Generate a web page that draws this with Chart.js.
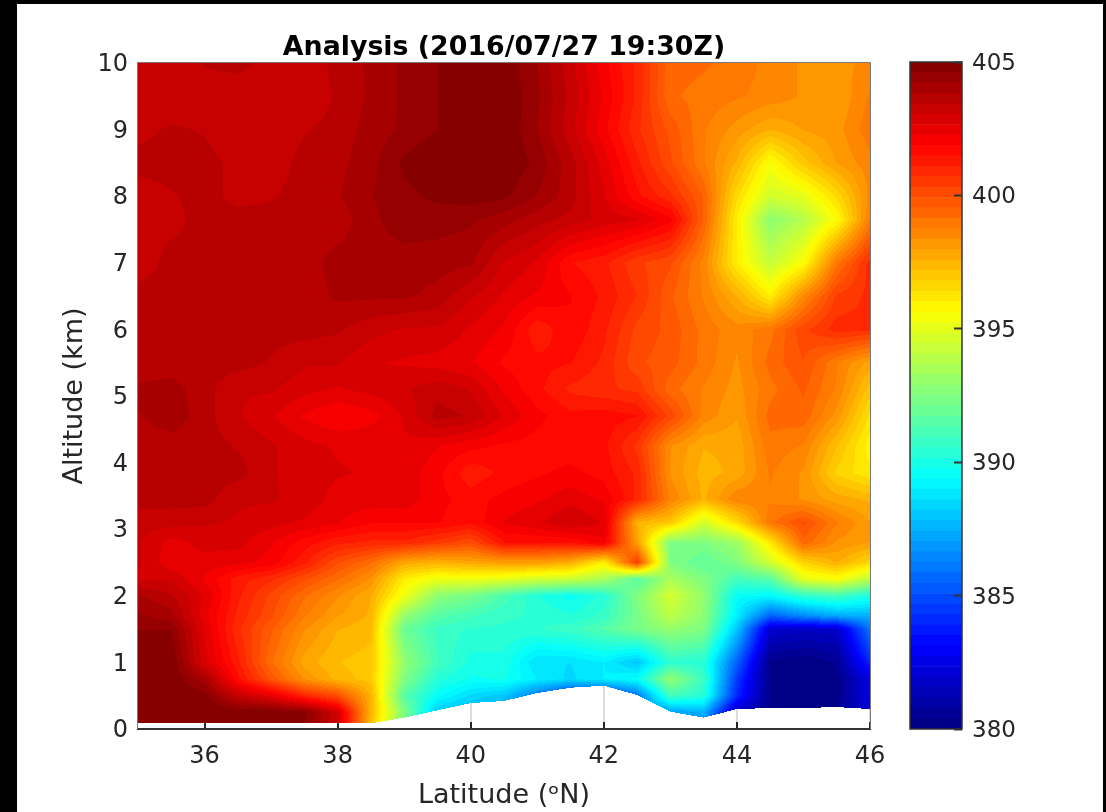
<!DOCTYPE html>
<html>
<head>
<meta charset="utf-8">
<title>Analysis</title>
<script src="https://cdn.jsdelivr.net/npm/chart.js@4/dist/chart.umd.min.js"></script>
<style>
    html, body { margin: 0; padding: 0; background: #000; width: 1106px; height: 812px; overflow: hidden; }
    #page { position: absolute; left: 17px; top: 4px; width: 1086px; height: 808px; background: #fff; }
    #plot { position: absolute; left: 0; top: 0; }
    #bar { position: absolute; left: 880px; top: 0; }
</style>
</head>
<body>
<div id="page">
    <canvas id="plot" width="880" height="808"></canvas>
    <canvas id="bar" width="206" height="808"></canvas>
</div>
<script>
const latitudes = [35, 35.5, 36, 36.5, 37, 37.5, 38, 38.5, 39, 39.5, 40, 40.5, 41, 41.5, 42, 42.5, 43, 43.5, 44, 44.5, 45, 45.5, 46];
const altitudes = [0, 0.25, 0.5, 0.75, 1, 1.5, 1.7, 2, 2.25, 2.5, 2.8, 3.1, 3.45, 3.85, 4.25, 4.7, 5.1, 5.5, 6, 6.5, 7, 7.65, 8, 8.5, 9, 9.5, 10];
// ground height per latitude, nothing is drawn below it
const surface = [0.085, 0.085, 0.085, 0.085, 0.085, 0.085, 0.085, 0.085, 0.17, 0.28, 0.39, 0.42, 0.54, 0.62, 0.65, 0.51, 0.26, 0.17, 0.3, 0.315, 0.315, 0.33, 0.3];
// one row per altitude, bottom to top
const co2 = [
    [405, 405, 405, 405, 405, 404.5, 403, 397, 392, 388, 387.5, 387, 386, 385, 385, 386, 385.5, 387, 381, 380.3, 380, 380.5, 382],
    [405, 405, 405, 405, 405, 404.8, 403, 397.5, 392.5, 388, 387.5, 387, 386, 386, 386, 386, 387, 387.5, 381.5, 380.3, 380, 380.5, 382],
    [405, 405, 404.8, 403.3, 402.5, 401, 400, 397.5, 391.5, 389.5, 388.5, 388, 386, 384, 384, 386, 391, 390.3, 384, 380.3, 380, 380.2, 382.5],
    [405, 405, 404, 401.6, 399.8, 398.3, 397.4, 397, 392.5, 390.3, 389.7, 389.8, 389, 388.5, 389, 389.5, 393, 390.8, 384.5, 380.2, 380, 380.2, 382.5],
    [405, 405, 402.8, 401.2, 399.2, 397.8, 397.2, 397, 393, 391, 390, 390, 388.6, 388.6, 389, 388, 390.5, 390.3, 385.5, 380.3, 380, 380.5, 384],
    [404.6, 404.6, 402.6, 400.8, 399.6, 398.4, 397.6, 397.3, 392, 390.8, 390.5, 390.5, 390.5, 390.8, 391.4, 392.3, 393, 392.5, 388, 382, 381.7, 381.8, 386],
    [404.3, 404, 402.4, 401, 400, 398.8, 398, 397.5, 393, 391.5, 391, 390.6, 390.5, 390.2, 390.7, 392.3, 394, 392.8, 389, 385.5, 386.5, 387.3, 387.5],
    [403.9, 403.5, 402.6, 401.2, 400.2, 399.2, 398.4, 397.6, 395.3, 392.8, 392.3, 391.2, 390.2, 389.6, 390.3, 392.5, 394.6, 393, 389.5, 389.3, 390.5, 391, 390],
    [403, 403, 402.2, 401.3, 400.8, 400, 399.2, 398.3, 396, 395.2, 395.2, 395, 394.5, 394.3, 393.5, 391.5, 393.5, 392.5, 391, 391.5, 395, 395.5, 394],
    [403.1, 402.4, 402.5, 402.4, 402.1, 401.2, 400, 399.2, 397.8, 397.5, 397.8, 398, 398, 397.6, 396, 400.5, 392.5, 391.7, 392.5, 394.5, 396.7, 397.6, 396.6],
    [403.1, 402.5, 402.8, 402.8, 402.3, 401.7, 401.2, 401, 401, 400.5, 400, 401.5, 401.5, 401.5, 402.2, 398, 392.5, 392.5, 393.2, 396.2, 399.4, 398.3, 398],
    [403.2, 403.2, 403.1, 403, 402.8, 402.6, 402.3, 401.9, 401.9, 401.9, 401.6, 402.3, 402.6, 403.1, 402.6, 397.5, 397, 394.5, 396.5, 399, 400, 398.8, 398],
    [403.6, 403.6, 403.6, 403.1, 403.1, 402.9, 402.5, 402.5, 402.5, 402, 401.7, 402, 402.2, 402.5, 402.2, 401, 398.7, 397.5, 398.7, 398.7, 398.3, 397.8, 397.5],
    [403.6, 403.6, 403.6, 403.6, 403.1, 402.8, 402.7, 402.6, 402.5, 402, 401.2, 401.6, 401.8, 402, 401.7, 401, 398.3, 397.4, 397.7, 398.8, 398.3, 396.7, 396.1],
    [403.6, 403.6, 403.6, 403.4, 403.1, 402.8, 402.6, 402.6, 402.6, 402.3, 402, 401.8, 401.7, 401.6, 401.6, 400.6, 398.4, 397.6, 397.7, 399, 398.7, 397.2, 395.8],
    [403.8, 404.1, 403.6, 403.1, 402.7, 402.2, 401.9, 402.1, 402.7, 403.6, 403.4, 402.6, 402, 401.6, 401.7, 401.5, 400.2, 398.6, 398, 399.3, 399.4, 398.2, 396.3],
    [403.9, 404, 403.6, 403.1, 403.1, 402.8, 402.6, 402.8, 403, 403.3, 403, 402.2, 401.6, 401, 400.8, 400.6, 399.3, 398.7, 398.2, 399, 399.6, 398.7, 397],
    [403.6, 403.6, 403.6, 403.6, 403.4, 403.1, 403.1, 402.7, 402.6, 402.5, 402.3, 401.8, 401.6, 401.5, 401, 400, 399.7, 399, 398.3, 399.3, 399.9, 398.8, 397.8],
    [403.6, 403.6, 403.6, 403.6, 403.6, 403.6, 403.5, 403.2, 403, 403, 402.6, 402.2, 401.2, 401.8, 401.2, 400.2, 399.8, 399, 398.5, 399, 400.2, 400.9, 400.8],
    [403.6, 403.6, 403.6, 403.6, 403.6, 403.6, 403.9, 403.9, 403.9, 403.7, 403.1, 402.6, 402.2, 401.9, 401.4, 400.7, 399.6, 398.7, 397.6, 396, 398.5, 400.4, 400.8],
    [403.2, 403.6, 403.6, 403.6, 403.6, 403.65, 404, 404, 404, 404, 403.9, 403, 402.6, 401.5, 401.2, 400.4, 400, 398.6, 396, 394.2, 395.6, 399, 400.9],
    [403.2, 403.3, 403.6, 403.6, 403.6, 403.6, 403.6, 404.1, 404.5, 404.4, 404.3, 404, 403.6, 403.3, 402.9, 402.7, 402, 399.5, 396, 392.8, 393.8, 395.6, 398.8],
    [403.2, 403.4, 403.6, 403.3, 403.4, 403.6, 403.8, 404.2, 404.5, 404.7, 404.8, 404.7, 404.2, 403.6, 402.7, 401.6, 400.8, 399.5, 396.5, 394.5, 395, 396.5, 398.5],
    [403.6, 403.6, 403.6, 403.3, 403.2, 403.6, 403.7, 404.1, 404.7, 405, 405, 405, 404.5, 403.6, 402.5, 401.2, 400, 398.8, 397.5, 395.5, 397, 398, 398.6],
    [403.3, 403.5, 403.4, 403.1, 403.1, 403.4, 403.6, 404, 404.3, 404.6, 404.9, 405, 404.2, 403.2, 402, 400.8, 399.8, 398.8, 398.2, 397.6, 398, 398.2, 399],
    [403.1, 403.1, 403.1, 403.1, 403.1, 403.1, 403.5, 403.9, 404.3, 404.6, 405, 405, 404.3, 403.3, 402.2, 401, 399.2, 399, 398.8, 398.6, 398.3, 398, 398.8],
    [403.1, 403.1, 403.5, 403.6, 403.3, 403.1, 403.6, 403.9, 404.3, 404.6, 404.9, 404.9, 404.2, 403.2, 402, 401, 399.3, 399.2, 399, 398.6, 398.3, 398.3, 398.4]
];
const latTicks = [36, 38, 40, 42, 44, 46];
const altTicks = [0, 1, 2, 3, 4, 5, 6, 7, 8, 9, 10];
const colorTicks = [380, 385, 390, 395, 400, 405];
const colorMin = 380;
const colorMax = 405;
const levels = 64;

const tickFont = { family: "DejaVu Sans", size: 24 };
const barFont = { family: "DejaVu Sans", size: 23 };
const labelFont = { family: "DejaVu Sans", size: 27 };
const textColor = "#262626";

// matlab jet, 64 steps
function jet(i) {
    const t = (i + 0.5) / levels;
    const c = (d) => Math.round(255 * Math.max(0, Math.min(1, 1.5 - Math.abs(4 * t - d))));
    return [c(3), c(2), c(1)];
}
const palette = [];
for (let i = 0; i < levels; i++) palette.push(jet(i));

function findCell(list, v) {
    let i = 0;
    while (i < list.length - 2 && v > list[i + 1]) i++;
    return i;
}

function valueAt(lat, alt) {
    const i = findCell(latitudes, lat);
    const j = findCell(altitudes, alt);
    const u = (lat - latitudes[i]) / (latitudes[i + 1] - latitudes[i]);
    const w = (alt - altitudes[j]) / (altitudes[j + 1] - altitudes[j]);
    const low = co2[j][i] * (1 - u) + co2[j][i + 1] * u;
    const high = co2[j + 1][i] * (1 - u) + co2[j + 1][i + 1] * u;
    return low * (1 - w) + high * w;
}

function groundAt(lat) {
    const i = findCell(latitudes, lat);
    const u = (lat - latitudes[i]) / (latitudes[i + 1] - latitudes[i]);
    return surface[i] * (1 - u) + surface[i + 1] * u;
}

// filled contours, painted through the chart's own scales
const contourPlugin = {
    id: "contour",
    beforeDatasetsDraw(chart) {
        const { ctx, chartArea: a, scales } = chart;
        if (!chart.$contour) {
            const w = Math.round(a.right - a.left);
            const h = Math.round(a.bottom - a.top);
            const off = document.createElement("canvas");
            off.width = w;
            off.height = h;
            const octx = off.getContext("2d");
            const img = octx.createImageData(w, h);
            for (let py = 0; py < h; py++) {
                const alt = scales.y.getValueForPixel(a.top + py + 0.5);
                for (let px = 0; px < w; px++) {
                    const lat = scales.x.getValueForPixel(a.left + px + 0.5);
                    if (alt < groundAt(lat)) continue;
                    const v = valueAt(lat, alt);
                    const k = Math.max(0, Math.min(levels - 1, Math.floor((v - colorMin) / (colorMax - colorMin) * levels)));
                    const n = (py * w + px) * 4;
                    img.data[n] = palette[k][0];
                    img.data[n + 1] = palette[k][1];
                    img.data[n + 2] = palette[k][2];
                    img.data[n + 3] = 255;
                }
            }
            octx.putImageData(img, 0, 0);
            chart.$contour = off;
        }
        ctx.drawImage(chart.$contour, a.left, a.top);
    },
    afterDraw(chart) {
        const { ctx, chartArea: a } = chart;
        ctx.save();
        ctx.strokeStyle = "#777";
        ctx.lineWidth = 1;
        ctx.beginPath();
        ctx.moveTo(a.left - 0.5, a.bottom);
        ctx.lineTo(a.left - 0.5, a.top - 0.5);
        ctx.lineTo(a.right + 0.5, a.top - 0.5);
        ctx.lineTo(a.right + 0.5, a.bottom);
        ctx.stroke();
        ctx.restore();
    },
};

const barFrame = {
    id: "barFrame",
    afterDraw(chart) {
        const { ctx, chartArea: a } = chart;
        ctx.save();
        ctx.strokeStyle = "#333";
        ctx.lineWidth = 1.5;
        ctx.strokeRect(a.left, a.top, a.right - a.left, a.bottom - a.top);
        ctx.restore();
    },
};

const gridPoints = [];
altitudes.forEach((alt, j) => latitudes.forEach((lat, i) => gridPoints.push({ x: lat, y: alt, v: co2[j][i] })));

new Chart(document.getElementById("plot"), {
    type: "scatter",
    data: { datasets: [{ label: "CO2", data: gridPoints, pointRadius: 0, pointHoverRadius: 0 }] },
    plugins: [contourPlugin],
    options: {
        responsive: false,
        animation: false,
        layout: { padding: { right: 27 } },
        plugins: {
            legend: { display: false },
            tooltip: { enabled: false },
            title: {
                display: true,
                text: "Analysis (2016/07/27 19:30Z)",
                fullSize: false,
                color: "#000",
                font: { family: "DejaVu Sans", size: 26.8, weight: "bold", lineHeight: 1.1 },
                padding: { top: 29.5, bottom: 0 },
            },
        },
        scales: {
            x: {
                type: "linear",
                min: 35,
                max: 46,
                afterBuildTicks: (s) => { s.ticks = latTicks.map((value) => ({ value })); },
                afterFit: (s) => { s.height = 83; s.paddingLeft = 0; s.paddingRight = 0; },
                grid: { color: "#dcdcdc", lineWidth: 2, tickColor: "#262626", tickLength: -7, tickWidth: 2 },
                border: { color: "#333", width: 2 },
                ticks: { color: textColor, font: tickFont, padding: 20, maxRotation: 0, autoSkip: false },
                title: { display: true, text: "Latitude (ᵒN)", color: textColor, font: labelFont, padding: { top: 0, bottom: 0 } },
            },
            y: {
                type: "linear",
                min: 0,
                max: 10,
                afterBuildTicks: (s) => { s.ticks = altTicks.map((value) => ({ value })); },
                afterFit: (s) => { s.width = 121; s.paddingTop = 0; s.paddingBottom = 0; },
                grid: { display: false },
                border: { display: false },
                ticks: { color: textColor, font: tickFont, padding: 2, labelOffset: 2, autoSkip: false },
                title: { display: true, text: "Altitude (km)", color: textColor, font: labelFont, padding: { top: 42, bottom: 0 } },
            },
        },
    },
});

const step = (colorMax - colorMin) / levels;
const bands = palette.map((c, i) => ({
    data: [[colorMin + i * step, colorMin + (i + 1) * step]],
    backgroundColor: `rgb(${c[0]},${c[1]},${c[2]})`,
    barPercentage: 1,
    categoryPercentage: 1,
    grouped: false,
}));

new Chart(document.getElementById("bar"), {
    type: "bar",
    data: { labels: [""], datasets: bands },
    plugins: [barFrame],
    options: {
        responsive: false,
        animation: false,
        layout: { padding: { left: 13, top: 58, bottom: 83 } },
        plugins: { legend: { display: false }, tooltip: { enabled: false } },
        scales: {
            x: { display: false },
            y: {
                position: "right",
                min: colorMin,
                max: colorMax,
                afterBuildTicks: (s) => { s.ticks = colorTicks.map((value) => ({ value })); },
                afterFit: (s) => { s.width = 141; },
                grid: { drawOnChartArea: false, z: 1, tickLength: -8, tickColor: "#333", tickWidth: 2 },
                border: { display: false },
                ticks: { color: textColor, font: barFont, padding: 18, labelOffset: 2, autoSkip: false },
            },
        },
    },
});
</script>
</body>
</html>
